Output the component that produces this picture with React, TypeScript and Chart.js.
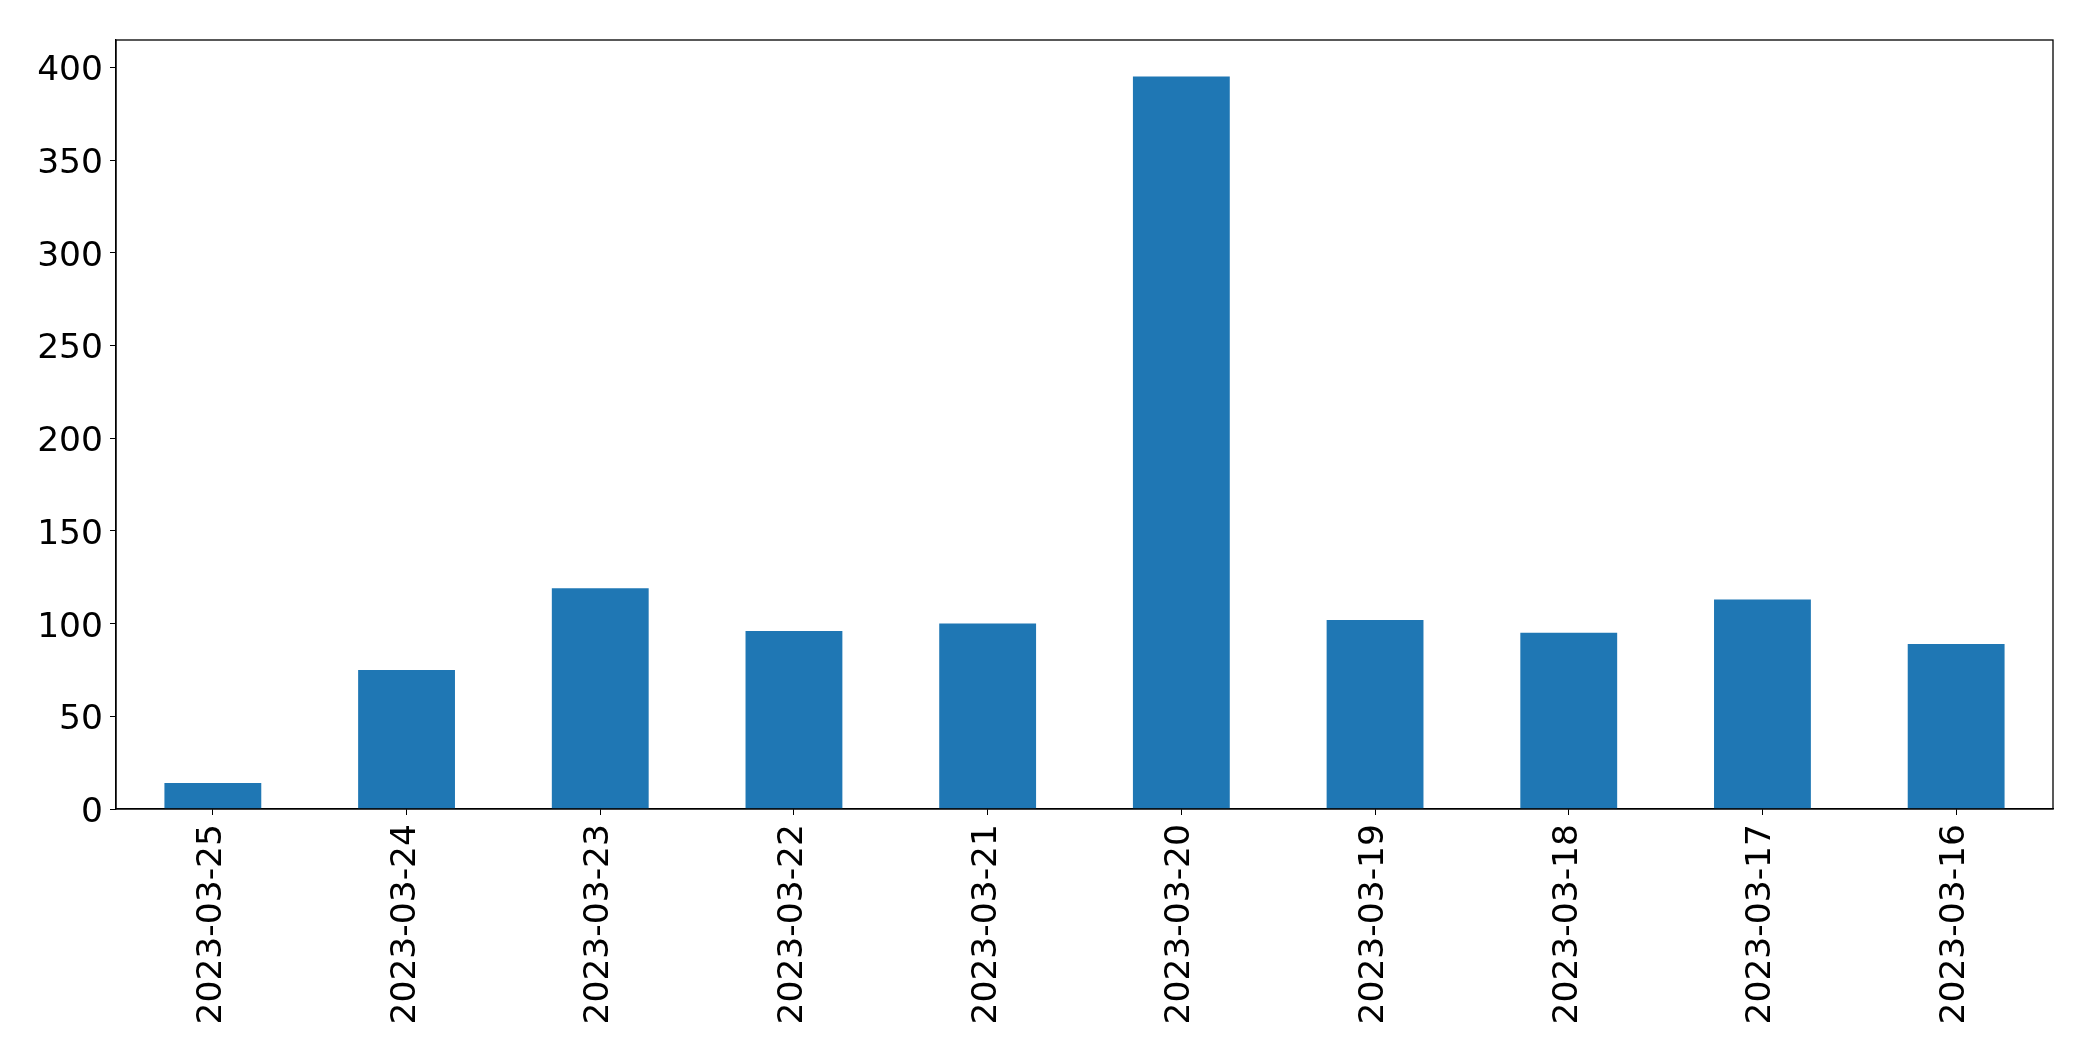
import React, { useEffect, useRef } from "react";
import { Chart, registerables } from "chart.js";

Chart.register(...registerables);

const categories = [
  "2023-03-25",
  "2023-03-24",
  "2023-03-23",
  "2023-03-22",
  "2023-03-21",
  "2023-03-20",
  "2023-03-19",
  "2023-03-18",
  "2023-03-17",
  "2023-03-16",
];
const values = [14, 75, 119, 96, 100, 395, 102, 95, 113, 89];
const yTicks = [0, 50, 100, 150, 200, 250, 300, 350, 400];

const W = 2093;
const H = 1061;

const frame = {
  id: "frame",
  afterDraw(chart: any) {
    const { ctx, chartArea } = chart;
    ctx.save();
    ctx.strokeStyle = "#000";
    ctx.lineWidth = 1.3;
    ctx.strokeRect(chartArea.left, chartArea.top, chartArea.right - chartArea.left, chartArea.bottom - chartArea.top);
    ctx.restore();
  },
};

export default function App() {
  const ref = useRef<HTMLCanvasElement | null>(null);
  useEffect(() => {
    document.body.style.margin = "0";
    const font = { family: "'DejaVu Sans'", size: 34.5 };
    const chart = new Chart(ref.current as HTMLCanvasElement, {
      type: "bar",
      data: {
        labels: categories,
        datasets: [
          {
            data: values,
            backgroundColor: "#1f77b4",
            barPercentage: 0.5,
            categoryPercentage: 1,
          },
        ],
      },
      options: {
        animation: false,
        responsive: false,
        devicePixelRatio: 1,
        layout: { padding: { left: 0, top: 40, right: 40, bottom: 0 } },
        plugins: { legend: { display: false }, tooltip: { enabled: false } },
        scales: {
          x: {
            offset: true,
            grid: { drawOnChartArea: false, drawTicks: true, tickLength: 6, color: "#000", offset: false },
            border: { display: true, color: "#000", width: 1.3 },
            ticks: { font, color: "#000", minRotation: 90, maxRotation: 90, padding: 9, autoSkip: false, labelOffset: -1 },
            afterFit(scale: any) {
              scale.height = H - 809;
            },
          },
          y: {
            min: 0,
            max: 414.75,
            grid: { drawOnChartArea: false, drawTicks: true, tickLength: 6, color: "#000" },
            border: { display: true, color: "#000", width: 1.3 },
            ticks: { font, color: "#000", padding: 7, stepSize: 50, labelOffset: 4 },
            afterBuildTicks(scale: any) {
              scale.ticks = yTicks.map((v) => ({ value: v }));
            },
            afterFit(scale: any) {
              scale.width = 116;
            },
          },
        },
      },
      plugins: [frame],
    });
    return () => chart.destroy();
  }, []);
  return <canvas ref={ref} width={W} height={H} style={{ display: "block", width: W, height: H }} />;
}
